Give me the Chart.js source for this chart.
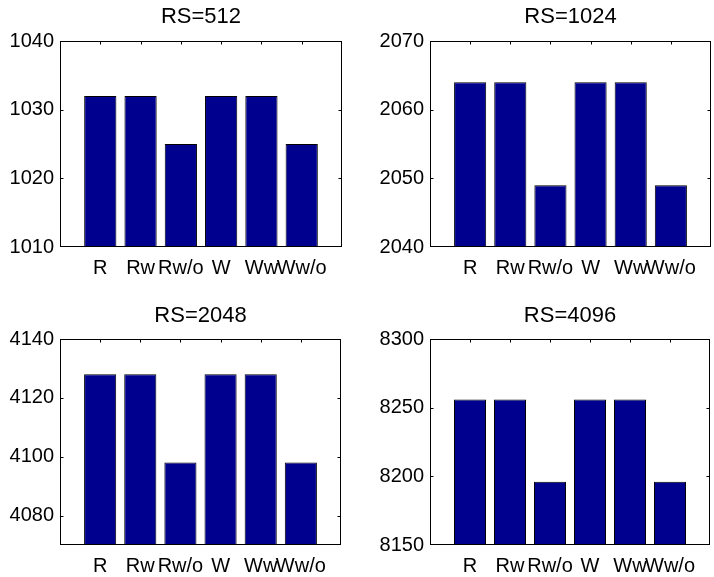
<!DOCTYPE html>
<html>
<head>
<meta charset="utf-8">
<script src="https://cdn.jsdelivr.net/npm/chart.js@4.4.1/dist/chart.umd.min.js"></script>
<style>
  html, body { margin: 0; padding: 0; background: #fff; overflow: hidden; }
  #wrap { position: relative; width: 714px; height: 577px; background: #fff; }
  .panel { position: absolute; }
  .panel canvas { display: block; }
</style>
</head>
<body>
<div id="wrap">
  <div class="panel" style="left:0px;top:0px;"><canvas id="c0" width="357" height="290"></canvas></div>
  <div class="panel" style="left:357px;top:0px;"><canvas id="c1" width="357" height="290"></canvas></div>
  <div class="panel" style="left:0px;top:290px;"><canvas id="c2" width="357" height="287"></canvas></div>
  <div class="panel" style="left:357px;top:290px;"><canvas id="c3" width="357" height="287"></canvas></div>
</div>
<script>
// Bar categories shared by every subplot
const categories = ['R', 'Rw', 'Rw/o', 'W', 'Ww', 'Ww/o'];

// Subplot titles
const titles = ['RS=512', 'RS=1024', 'RS=2048', 'RS=4096'];

// Bar heights per subplot
const values512  = [1032, 1032, 1025, 1032, 1032, 1025];
const values1024 = [2064, 2064, 2049, 2064, 2064, 2049];
const values2048 = [4128, 4128, 4098, 4128, 4128, 4098];
const values4096 = [8256, 8256, 8196, 8256, 8256, 8196];

// Y tick labels per subplot
const ticks512  = [1010, 1020, 1030, 1040];
const ticks1024 = [2040, 2050, 2060, 2070];
const ticks2048 = [4080, 4100, 4120, 4140];
const ticks4096 = [8150, 8200, 8250, 8300];

// Y axis limits per subplot
const yMin = [1010, 2040, 4070, 8150];
const yMax = [1040, 2070, 4140, 8300];

const seriesList = [values512, values1024, values2048, values4096];
const tickList = [ticks512, ticks1024, ticks2048, ticks4096];

// Frame geometry for each subplot (canvas pixels)
const frames = [
  { axisW: 60, padRight: 15, titleTop: 6,  titleBottom: 13, xAxisH: 43 },
  { axisW: 73, padRight: 3,  titleTop: 6,  titleBottom: 13, xAxisH: 43 },
  { axisW: 60, padRight: 16, titleTop: 15, titleBottom: 12, xAxisH: 32 },
  { axisW: 73, padRight: 4,  titleTop: 15, titleBottom: 12, xAxisH: 32 }
];

const FONT = '"Liberation Sans", Arial, Helvetica, sans-serif';
const BAR_COLOR = '#00008f';
const TICK_LEN = 3;

// Pixel-aligned edges of the axes box
function boxEdges(a) {
  return {
    l: Math.round(a.left) + 0.5,
    t: Math.round(a.top) + 0.5,
    r: Math.round(a.right) - 0.5,
    b: Math.round(a.bottom) - 0.5
  };
}

// Axes box with inward tick marks on all four sides
const boxAxes = {
  id: 'boxAxes',
  afterLayout(chart) {
    const tb = chart.titleBlock;
    const a = chart.chartArea;
    if (tb) { tb.left = a.left; tb.right = a.right; tb.width = a.right - a.left; }
  },
  beforeDatasetsDraw(chart) {
    const { ctx, chartArea, scales } = chart;
    const e = boxEdges(chartArea);
    ctx.save();
    ctx.strokeStyle = '#000';
    ctx.lineWidth = 1;
    ctx.beginPath();
    scales.y.ticks.forEach(t => {
      const y = Math.min(Math.round(scales.y.getPixelForValue(t.value)) + 0.5, e.b);
      ctx.moveTo(e.l, y); ctx.lineTo(e.l + TICK_LEN, y);
      ctx.moveTo(e.r, y); ctx.lineTo(e.r - TICK_LEN, y);
    });
    scales.x.ticks.forEach(t => {
      const x = Math.round(scales.x.getPixelForValue(t.value)) + 0.5;
      ctx.moveTo(x, e.t); ctx.lineTo(x, e.t + TICK_LEN);
      ctx.moveTo(x, e.b); ctx.lineTo(x, e.b - TICK_LEN);
    });
    ctx.stroke();
    ctx.restore();
  },
  afterDatasetsDraw(chart) {
    const { ctx, chartArea } = chart;
    const e = boxEdges(chartArea);
    ctx.save();
    ctx.strokeStyle = '#000';
    ctx.lineWidth = 1;
    ctx.strokeRect(e.l, e.t, e.r - e.l, e.b - e.t);
    ctx.restore();
  }
};

function makePanel(idx) {
  const f = frames[idx];
  const values = seriesList[idx];
  const yt = tickList[idx];
  new Chart(document.getElementById('c' + idx), {
    type: 'bar',
    data: {
      datasets: [{
        data: values.map((v, i) => ({ x: i + 1, y: v })),
        backgroundColor: BAR_COLOR,
        borderColor: '#000',
        borderWidth: 1,
        borderSkipped: false,
        barPercentage: 0.8,
        categoryPercentage: 1.0
      }]
    },
    options: {
      responsive: false,
      animation: false,
      devicePixelRatio: 1,
      layout: { padding: { left: 0, right: f.padRight, top: 0, bottom: 0 } },
      plugins: {
        legend: { display: false },
        tooltip: { enabled: false },
        title: {
          display: true,
          text: titles[idx],
          color: '#000',
          font: { family: FONT, size: 22, weight: 'normal', lineHeight: 1 },
          padding: { top: f.titleTop, bottom: f.titleBottom }
        }
      },
      scales: {
        x: {
          type: 'linear',
          min: 0,
          max: 7,
          offset: false,
          grid: { display: false, offset: false, drawTicks: false },
          border: { display: false },
          afterBuildTicks: s => { s.ticks = categories.map((c, i) => ({ value: i + 1 })); },
          afterFit: s => { s.height = f.xAxisH; },
          ticks: {
            autoSkip: false,
            maxRotation: 0,
            minRotation: 0,
            padding: 9,
            color: '#000',
            font: { family: FONT, size: 20 },
            callback: v => categories[v - 1]
          }
        },
        y: {
          min: yMin[idx],
          max: yMax[idx],
          grid: { display: false, drawTicks: false },
          border: { display: false },
          afterBuildTicks: s => { s.ticks = yt.map(v => ({ value: v })); },
          afterFit: s => { s.width = f.axisW; },
          ticks: {
            padding: 6,
            color: '#000',
            font: { family: FONT, size: 20 },
            callback: v => String(v)
          }
        }
      }
    },
    plugins: [boxAxes]
  });
}

[0, 1, 2, 3].forEach(makePanel);
</script>
</body>
</html>
